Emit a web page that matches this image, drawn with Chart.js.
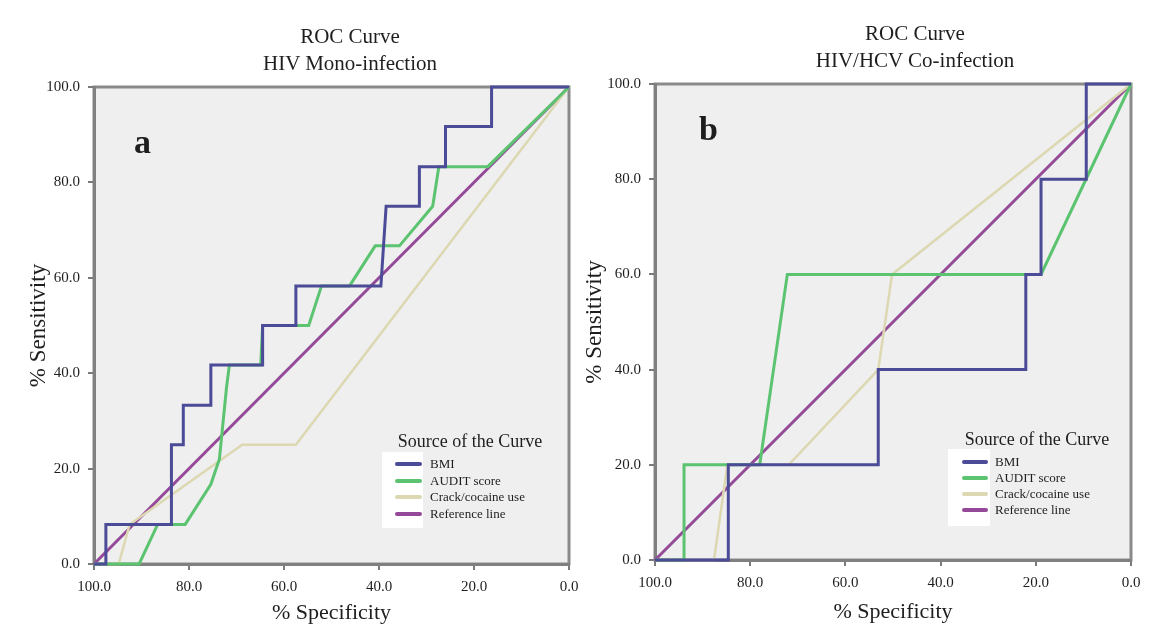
<!DOCTYPE html>
<html>
<head>
<meta charset="utf-8">
<script src="https://cdn.jsdelivr.net/npm/chart.js@4.4.1/dist/chart.umd.min.js"></script>
<style>
  html, body { margin: 0; padding: 0; background: #fff; }
  #page { position: relative; width: 1149px; height: 630px; overflow: hidden;
          font-family: 'Liberation Serif', 'Times New Roman', serif; color: #1e1e1e; }
  .panel { position: absolute; top: 0; }
  .panel canvas { display: block; }
  .title { position: absolute; transform: translateX(-50%); text-align: center;
           font-size: 21px; line-height: 27px; white-space: nowrap; }
  .letter { position: absolute; font-weight: bold; font-size: 34px; line-height: 34px; }
  .legend-box { position: absolute; background: #fff; }
  .legend-title { position: absolute; transform: translateX(-50%); font-size: 18px; white-space: nowrap; line-height: 20px; }
  .legend-row { position: absolute; font-size: 13px; line-height: 16px; white-space: nowrap; }
  .legend-row i { position: absolute; height: 4px; border-radius: 2px; }
</style>
</head>
<body>
<div id="page">
  <div class="panel" style="left:0;width:587px"><canvas id="rocMono" width="587" height="630"></canvas></div>
  <div class="panel" style="left:580px;width:569px"><canvas id="rocCo" width="569" height="630"></canvas></div>

  <div class="title" style="left:350px;top:23px">ROC Curve<br>HIV Mono-infection</div>
  <div class="title" style="left:915px;top:20px">ROC Curve<br>HIV/HCV Co-infection</div>
  <div class="letter" style="left:134px;top:125px">a</div>
  <div class="letter" style="left:699px;top:112px">b</div>

  <div id="legendMono"></div>
  <div id="legendCo"></div>
</div>

<script>
// curve names (legend order)
const curveNames = ['BMI', 'AUDIT score', 'Crack/cocaine use', 'Reference line'];

// panel a, HIV mono-infection: [% specificity, % sensitivity]
const monoBmi = [[100, 0], [97.5, 0], [97.5, 8.3], [83.7, 8.3], [83.7, 25], [81.2, 25], [81.2, 33.3],
  [75.4, 33.3], [75.4, 41.7], [64.5, 41.7], [64.5, 50], [57.5, 50], [57.5, 58.3], [39.6, 58.3],
  [38.5, 75], [31.5, 75], [31.5, 83.3], [26, 83.3], [26, 91.7], [16.3, 91.7], [16.3, 100], [0, 100]];
const monoAudit = [[100, 0], [90.5, 0], [86.6, 8.3], [80.8, 8.3], [75.4, 16.7], [73.6, 22], [72.8, 30],
  [72.1, 37], [71.5, 41.7], [64.9, 41.7], [64.5, 50], [54.8, 50], [52.1, 58.3], [46.2, 58.3],
  [40.8, 66.7], [35.7, 66.7], [28.7, 75], [27.4, 83.3], [17.1, 83.3], [0, 100]];
const monoCrack = [[100, 0], [94.8, 0], [92.5, 8.3], [68.8, 25], [57.5, 25], [0, 100]];
const monoRef = [[100, 0], [0, 100]];

// panel b, HIV/HCV co-infection
const coBmi = [[100, 0], [84.6, 0], [84.6, 20], [53.1, 20], [53.1, 40], [22.1, 40], [22.1, 60],
  [18.9, 60], [18.9, 80], [9.4, 80], [9.4, 100], [0, 100]];
const coAudit = [[100, 0], [93.9, 0], [93.9, 20], [78, 20], [72.2, 60], [18.9, 60], [0, 100]];
const coCrack = [[100, 0], [87.6, 0], [84.8, 20], [71.9, 20], [53.1, 40], [50.2, 60], [0, 100]];
const coRef = [[100, 0], [0, 100]];

const LINE_COLORS = ['#4b4b97', '#5cc470', '#dcd8b2', '#944a99'];
const LINE_WIDTHS = [3, 3, 2.5, 3];
const FONT = "'Liberation Serif', 'Times New Roman', serif";

const plotFrame = {
  id: 'plotFrame',
  beforeDraw(chart) {
    const { ctx, chartArea: a } = chart;
    ctx.save();
    ctx.fillStyle = '#efefef';
    ctx.fillRect(a.left, a.top, a.right - a.left, a.bottom - a.top);
    ctx.strokeStyle = '#8a8a8a';
    ctx.lineWidth = 3;
    ctx.strokeRect(a.left, a.top, a.right - a.left, a.bottom - a.top);
    ctx.restore();
  }
};

function makeRoc(id, curves, box) {
  const datasets = curves.map((pts, i) => ({
    label: curveNames[i],
    data: pts.map(p => ({ x: p[0], y: p[1] })),
    borderColor: LINE_COLORS[i],
    borderWidth: LINE_WIDTHS[i],
    pointRadius: 0,
    tension: 0,
    clip: false,
    showLine: true,
    fill: false
  }));

  const tickFont = { family: FONT, size: 15 };
  const gridOpts = { drawOnChartArea: false, drawTicks: true, tickLength: 6, color: '#7a7a7a', lineWidth: 2 };
  const borderOpts = { display: true, color: '#808080', width: 3 };

  return new Chart(document.getElementById(id), {
    type: 'scatter',
    data: { datasets },
    options: {
      responsive: false,
      animation: false,
      layout: { padding: { left: box.padLeft, right: box.padRight, top: box.top, bottom: 0 } },
      plugins: { legend: { display: false }, tooltip: { enabled: false } },
      scales: {
        x: {
          type: 'linear', min: 0, max: 100, reverse: true,
          ticks: { stepSize: 20, padding: 8, color: '#1e1e1e', font: tickFont, callback: v => v.toFixed(1) },
          grid: gridOpts, border: borderOpts,
          title: { display: true, text: '% Specificity', color: '#1e1e1e',
                   font: { family: FONT, size: 22 }, padding: { top: 0, bottom: box.xTitlePad } },
          afterFit: s => { s.height = box.xHeight; }
        },
        y: {
          type: 'linear', min: 0, max: 100,
          ticks: { stepSize: 20, padding: 8, color: '#1e1e1e', font: tickFont, callback: v => v.toFixed(1) },
          grid: gridOpts, border: borderOpts,
          title: { display: true, text: '% Sensitivity', color: '#1e1e1e',
                   font: { family: FONT, size: 23 }, padding: { top: box.yTitlePad, bottom: 0 } },
          afterFit: s => { s.width = box.yWidth; }
        }
      }
    },
    plugins: [plotFrame]
  });
}

function buildLegend(chart, el, L) {
  let html = `<div class="legend-box" style="left:${L.boxX}px;top:${L.boxY}px;width:${L.boxW}px;height:${L.boxH}px"></div>`;
  html += `<div class="legend-title" style="left:${L.titleX}px;top:${L.titleY - 10}px">Source of the Curve</div>`;
  chart.data.datasets.forEach((ds, i) => {
    const cy = L.rowY + i * L.rowGap;
    html += `<div class="legend-row" style="left:${L.textX}px;top:${cy - 8}px">` +
      `<i style="left:${L.swX - L.textX}px;top:6px;width:${L.swW}px;background:${ds.borderColor}"></i>${ds.label}</div>`;
  });
  el.innerHTML = html;
}

const chartMono = makeRoc('rocMono', [monoBmi, monoAudit, monoCrack, monoRef],
  { padLeft: 20, padRight: 18, top: 87, xHeight: 66, yWidth: 74, xTitlePad: 4, yTitlePad: 5 });
const chartCo = makeRoc('rocCo', [coBmi, coAudit, coCrack, coRef],
  { padLeft: 0, padRight: 18, top: 84, xHeight: 70, yWidth: 75, xTitlePad: 5, yTitlePad: 1 });

buildLegend(chartMono, document.getElementById('legendMono'),
  { boxX: 382, boxY: 452, boxW: 41, boxH: 76, titleX: 470, titleY: 441,
    swX: 395, swW: 27, textX: 430, rowY: 464, rowGap: 16.6 });
buildLegend(chartCo, document.getElementById('legendCo'),
  { boxX: 948, boxY: 449, boxW: 42, boxH: 77, titleX: 1037, titleY: 439,
    swX: 962, swW: 26, textX: 995, rowY: 462, rowGap: 16 });
</script>
</body>
</html>
